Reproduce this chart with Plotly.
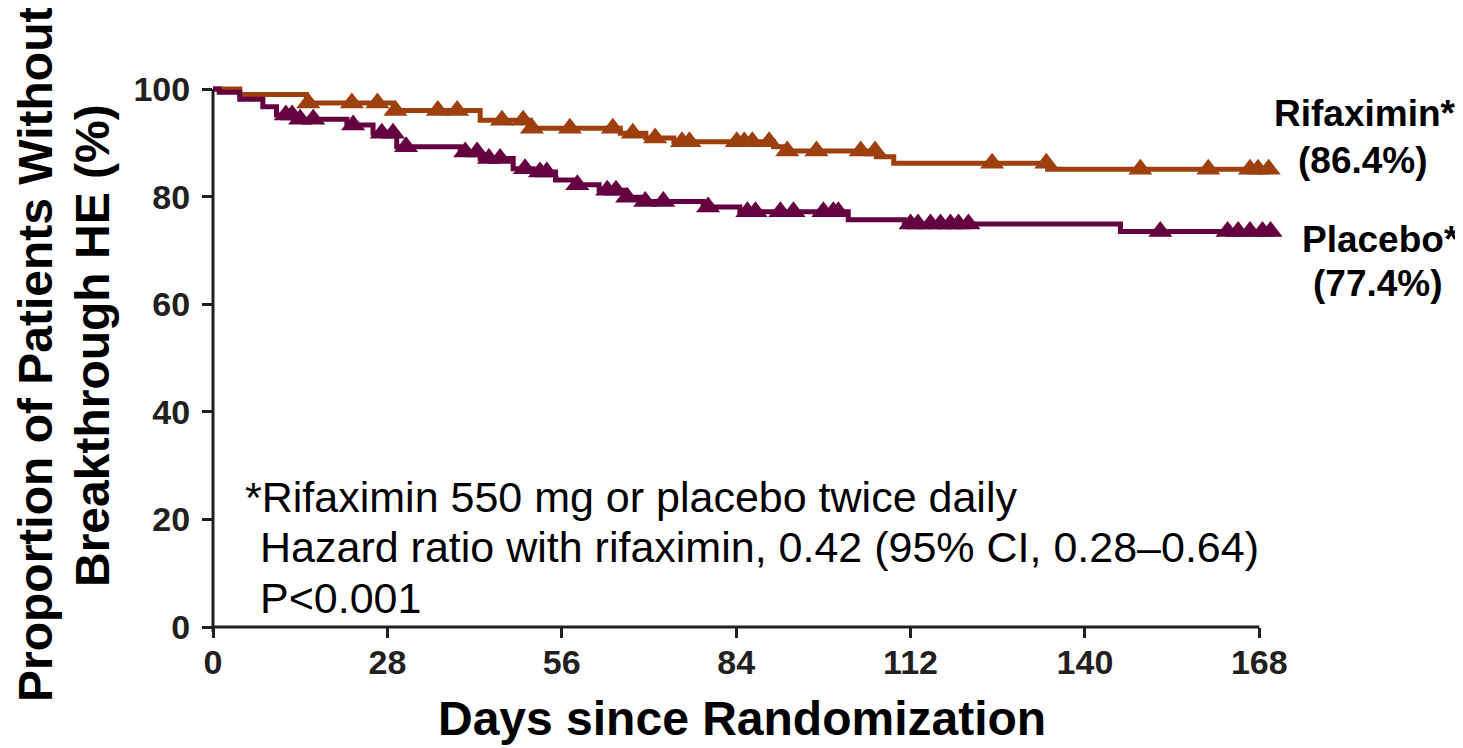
import plotly.graph_objects as go

# ---------------- Data ----------------
x_tick_vals = [0, 28, 56, 84, 112, 140, 168]
y_tick_vals = [0, 20, 40, 60, 80, 100]

rif_name = "Rifaximin"
rif_step_days = [0, 4.3, 15.0, 29.0, 42.9, 51.0, 65.4, 69.5, 74.0, 90.0, 92.0, 106.5, 109.3, 134.0]
rif_step_vals = [100, 99.0, 97.4, 96.0, 94.2, 92.7, 91.8, 90.9, 90.2, 89.3, 88.5, 87.4, 86.2, 85.1]
rif_end_day = 170.5
rif_censor_days = [15.3, 22.3, 26.4, 29.3, 36.1, 39.2, 46.4, 49.8, 51.2, 57.3, 64.2, 67.4,
                   71.0, 75.3, 76.5, 84.1, 85.3, 86.6, 89.3, 92.2, 96.9, 104.0, 106.3,
                   125.1, 133.8, 148.9, 159.8, 166.5, 167.8, 169.5]

plc_name = "Placebo"
plc_step_days = [0, 1.0, 4.3, 8.0, 10.2, 12.9, 21.5, 25.7, 29.5, 39.7, 42.9, 48.2, 51.4,
                 55.0, 58.0, 62.0, 66.0, 68.5, 78.7, 84.6, 102.0, 111.0, 145.7]
plc_step_vals = [100, 99.4, 98.1, 96.7, 95.2, 94.4, 93.3, 91.8, 89.3, 88.3, 87.1, 85.2, 84.6,
                 83.1, 82.2, 81.2, 79.9, 79.1, 78.1, 77.2, 75.7, 74.9, 73.5]
plc_end_day = 170.5
plc_censor_days = [11.7, 12.7, 14.0, 16.1, 22.5, 27.1, 28.9, 31.0, 40.5, 42.4, 44.3, 46.1,
                   50.1, 52.5, 53.6, 58.5, 63.3, 64.7, 66.5, 69.4, 72.3, 79.5, 85.8, 87.1,
                   91.1, 93.2, 98.0, 99.6, 100.4, 112.0, 113.2, 115.2, 116.8, 118.4, 119.7,
                   121.3, 152.1, 162.9, 164.6, 166.5, 168.5, 169.8]

rif_label = ["Rifaximin*", "(86.4%)"]
plc_label = ["Placebo*", "(77.4%)"]
note_lines = ["*Rifaximin 550 mg or placebo twice daily",
              "Hazard ratio with rifaximin, 0.42 (95% CI, 0.28\u20130.64)",
              "P<0.001"]
x_title = "Days since Randomization"
y_title = ["Proportion of Patients Without", "Breakthrough HE (%)"]

# ---------------- Styling ----------------
ORANGE = "#9E3F10"
PURPLE = "#650040"
AXIS = "#231F20"
FONT = "Liberation Sans, Arial, sans-serif"

# page body has an 8px default margin: build the figure 8px smaller and
# express all reference pixel positions relative to the figure origin
OFF = 8
W, H = 1463 - OFF, 748 - OFF
ML, MT = 213 - OFF, 81 - OFF
PLOT_RIGHT, PLOT_BOTTOM = 1278 - OFF, 627 - OFF
MR, MB = W - PLOT_RIGHT, H - PLOT_BOTTOM
X_MAX, Y_MAX = 171, 101.5
PW, PH = W - ML - MR, H - MT - MB


def px_x(px):
    return (px - OFF - ML) / PW


def px_y(py):
    return (PLOT_BOTTOM - (py - OFF)) / PH


def km_value(days, vals, t):
    v = vals[0]
    for d, val in zip(days, vals):
        if d <= t:
            v = val
    return v


fig = go.Figure()

for name, days, vals, end, cens, col in [
    (rif_name, rif_step_days, rif_step_vals, rif_end_day, rif_censor_days, ORANGE),
    (plc_name, plc_step_days, plc_step_vals, plc_end_day, plc_censor_days, PURPLE),
]:
    fig.add_trace(go.Scatter(
        x=days + [end], y=vals + [vals[-1]], mode="lines",
        line=dict(color=col, width=5, shape="hv"), name=name, showlegend=False,
        hoverinfo="skip"))
    fig.add_trace(go.Scatter(
        x=cens, y=[km_value(days, vals, t) for t in cens], mode="markers",
        marker=dict(symbol="triangle-up", size=21, color=col, line=dict(width=0)),
        name=name + " censored", showlegend=False, cliponaxis=False))

tick_font = dict(family=FONT, size=34, color=AXIS, weight="bold")
fig.update_xaxes(range=[0, X_MAX], tickvals=x_tick_vals, ticks="outside", ticklen=10,
                 tickwidth=2.5, tickcolor=AXIS, showline=False, showgrid=False,
                 zeroline=False, tickfont=tick_font, ticklabelstandoff=-5)
fig.update_yaxes(range=[0, Y_MAX], tickvals=y_tick_vals, ticks="outside", ticklen=10,
                 tickwidth=2.5, tickcolor=AXIS, showline=False, showgrid=False,
                 zeroline=False, tickfont=tick_font, ticklabelstandoff=5)

# axis lines (x axis ends at day 168, y axis at 100)
fig.add_shape(type="line", xref="paper", yref="paper", x0=0, x1=168 / X_MAX, y0=0, y1=0,
              line=dict(color=AXIS, width=3))
fig.add_shape(type="line", xref="paper", yref="paper", x0=0, x1=0, y0=-5 / PH,
              y1=100 / Y_MAX, line=dict(color=AXIS, width=3))

annotations = []


def ann(text, cx, cy, size, bold=True, anchor="center", angle=0):
    annotations.append(dict(
        text=text, xref="paper", yref="paper", x=px_x(cx), y=px_y(cy),
        xanchor=anchor, yanchor="middle", showarrow=False, textangle=angle,
        font=dict(family=FONT, size=size, color="#000000", weight="bold" if bold else "normal")))


ann(rif_label[0], 1365, 113, 37)
ann(rif_label[1], 1363, 160, 37)
ann(plc_label[0], 1380, 240, 37)
ann(plc_label[1], 1378, 283, 37)

ann(note_lines[0], 243, 497, 43, bold=False, anchor="left")
ann(note_lines[1], 258, 547, 43, bold=False, anchor="left")
ann(note_lines[2], 258, 598, 43, bold=False, anchor="left")

ann(x_title, 742, 718, 48)
ann(y_title[0], 35, 354, 48, angle=-90)
ann(y_title[1], 92, 346, 48, angle=-90)

fig.update_layout(
    width=W, height=H, margin=dict(l=ML, r=MR, t=MT, b=MB, autoexpand=False),
    plot_bgcolor="white", paper_bgcolor="white", showlegend=False,
    annotations=annotations)

fig.write_html("out.html")
